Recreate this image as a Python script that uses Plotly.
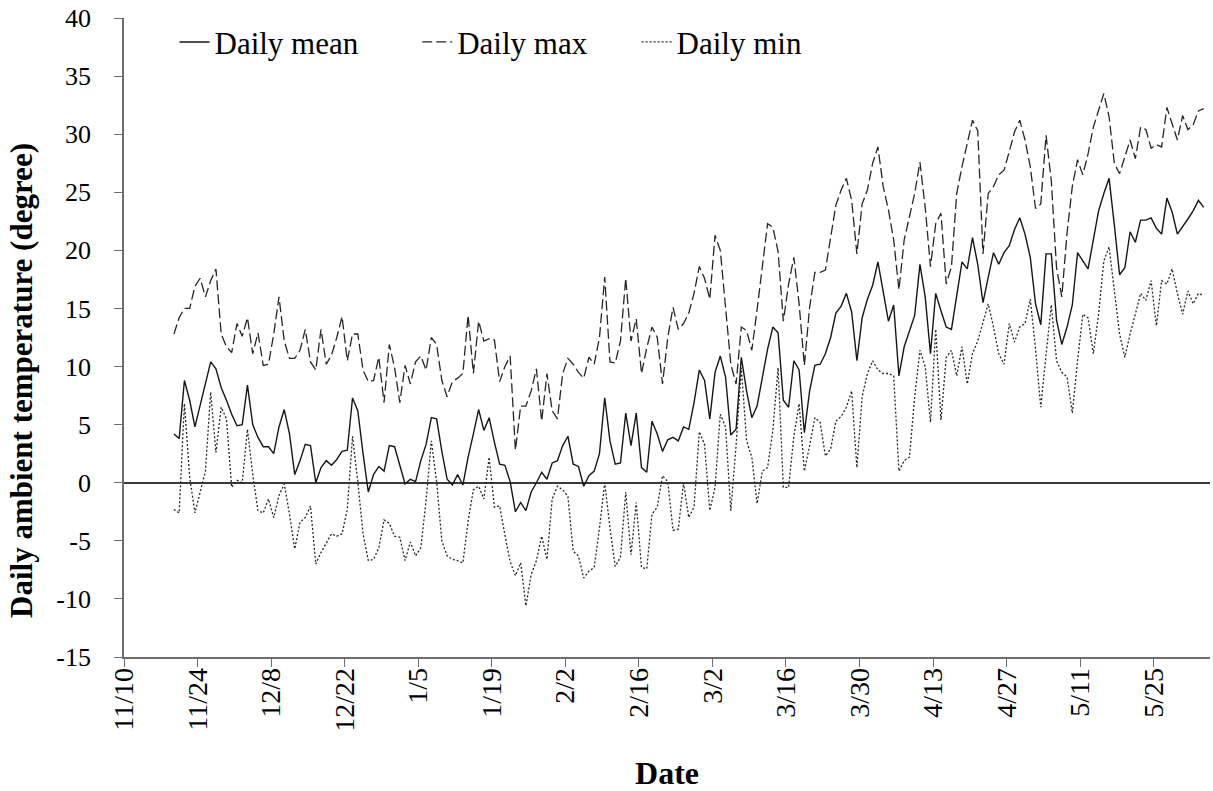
import pandas as pd
import plotly.graph_objects as go

# ---- data ----
first_day = "2014-11-19 12:00"

daily_mean = [
    4.2, 3.8, 8.8, 7.1, 4.8, 6.6, 8.4, 10.4, 9.8, 8.2,
    7.1, 5.9, 4.9, 5.0, 8.4, 5.0, 3.9, 3.1, 3.1, 2.5,
    4.8, 6.3, 4.2, 0.7, 1.9, 3.3, 3.2, 0.0, 1.3, 1.9,
    1.5, 2.0, 2.7, 2.8, 7.3, 6.2, 2.5, -0.8, 0.7, 1.4,
    1.0, 3.2, 3.1, 1.5, -0.1, 0.3, 0.1, 1.9, 3.3, 5.6,
    5.5, 2.7, 0.3, -0.2, 0.7, -0.2, 2.2, 4.2, 6.3, 4.5,
    5.6, 3.5, 1.6, 1.5, 0.1, -2.5, -1.7, -2.4, -0.8, 0.0,
    0.9, 0.3, 1.7, 1.9, 3.2, 4.0, 1.6, 1.4, -0.3, 0.6,
    1.0, 2.5, 7.3, 3.6, 1.6, 1.7, 6.0, 3.2, 6.0, 1.3,
    0.9, 5.3, 4.2, 2.7, 3.7, 3.9, 3.6, 4.8, 4.6, 6.9,
    9.7, 8.8, 5.5, 9.5, 10.9, 9.1, 4.1, 4.6, 10.8, 7.9,
    5.6, 6.6, 9.1, 11.5, 13.4, 12.9, 7.1, 6.5, 10.5, 9.7,
    4.3, 7.9, 10.1, 10.2, 11.1, 12.5, 14.6, 15.2, 16.3, 14.7,
    10.5, 14.2, 15.8, 17.0, 19.0, 16.5, 13.9, 15.3, 9.2, 11.7,
    13.1, 14.4, 18.8, 16.0, 11.1, 16.3, 14.8, 13.4, 13.2, 16.3,
    19.0, 18.4, 21.1, 18.8, 15.5, 17.7, 19.8, 18.8, 19.8, 20.4,
    21.8, 22.8, 21.4, 19.4, 15.4, 13.6, 19.7, 19.7, 14.0, 11.9,
    13.4, 15.3, 19.8, 19.1, 18.4, 20.9, 23.4, 24.9, 26.2, 22.2,
    17.9, 18.5, 21.6, 20.7, 22.6, 22.6, 22.8, 21.9, 21.4, 24.5,
    23.3, 21.4, 22.0, 22.7, 23.4, 24.3, 23.7,
]

daily_max = [
    12.8, 14.2, 15.0, 15.0, 16.9, 17.6, 16.0, 17.4, 18.4, 12.8,
    11.7, 11.2, 13.7, 12.6, 14.2, 11.1, 12.9, 10.1, 10.2, 12.8,
    16.0, 12.2, 10.7, 10.7, 11.4, 13.2, 10.4, 9.7, 13.2, 10.2,
    11.0, 12.5, 14.3, 10.5, 12.8, 12.8, 9.7, 8.7, 8.8, 10.8,
    6.9, 11.9, 9.9, 6.9, 10.1, 8.5, 10.4, 10.9, 9.7, 12.5,
    11.9, 8.8, 7.4, 8.7, 9.0, 9.4, 14.4, 9.4, 13.9, 12.2,
    12.4, 12.3, 8.7, 10.0, 10.9, 2.8, 6.6, 6.6, 7.9, 9.8,
    5.3, 9.4, 6.2, 5.5, 9.4, 10.7, 10.2, 9.5, 9.0, 10.8,
    10.2, 12.5, 17.7, 10.4, 10.3, 12.2, 17.6, 12.2, 14.1, 9.4,
    11.6, 13.4, 12.5, 8.5, 12.5, 15.1, 13.2, 13.7, 14.6, 16.3,
    18.6, 17.6, 15.8, 21.3, 20.0, 14.9, 10.2, 8.5, 13.4, 13.1,
    11.4, 14.9, 18.4, 22.3, 22.0, 19.9, 13.9, 17.1, 19.4, 15.4,
    10.1, 15.1, 18.1, 18.1, 18.3, 21.1, 23.9, 25.2, 26.2, 24.3,
    19.7, 24.0, 25.2, 27.5, 28.9, 25.5, 23.5, 20.9, 16.6, 20.9,
    22.9, 24.9, 27.6, 23.7, 18.6, 22.3, 23.2, 17.1, 18.6, 24.9,
    27.2, 29.2, 31.2, 30.3, 19.7, 24.9, 25.5, 26.5, 26.9, 28.5,
    30.2, 31.2, 29.5, 27.2, 23.6, 24.0, 29.9, 26.0, 18.5, 16.0,
    21.5, 25.5, 27.8, 26.5, 28.3, 30.6, 32.1, 33.5, 31.5, 27.5,
    26.6, 28.0, 29.5, 27.9, 30.6, 30.4, 28.8, 29.1, 28.9, 32.3,
    30.9, 29.5, 31.6, 30.4, 30.8, 32.0, 32.2,
]

daily_min = [
    -2.3, -2.6, 6.8, 0.5, -2.6, -0.7, 1.0, 7.8, 2.6, 6.5,
    5.5, -0.4, 0.2, 0.0, 4.6, 0.7, -2.4, -2.6, -1.4, -3.0,
    -1.1, -0.1, -2.7, -5.7, -3.4, -3.0, -2.0, -7.0, -6.0, -5.2,
    -4.4, -4.6, -4.4, -2.3, 4.0, 0.1, -4.4, -6.7, -6.6, -5.6,
    -3.2, -3.5, -4.6, -4.7, -6.7, -5.1, -6.3, -5.6, -1.5, 3.6,
    0.1, -5.0, -6.3, -6.6, -6.7, -6.9, -3.3, -0.6, -0.3, -1.4,
    2.2, -2.1, -2.0, -4.5, -6.8, -8.0, -6.9, -10.6, -7.9, -6.7,
    -4.6, -6.6, -1.4, -0.3, -0.6, -1.2, -5.9, -6.3, -8.2, -7.6,
    -7.3, -3.9, 0.0, -3.9, -7.2, -6.4, -0.8, -6.2, -1.7, -7.3,
    -7.4, -2.7, -2.1, 0.6, 0.1, -4.1, -4.0, 0.0, -3.0, -2.1,
    4.4, 3.3, -2.4, -0.4, 5.9, 4.8, -2.4, 3.2, 9.9, 3.6,
    2.2, -1.8, 1.0, 1.3, 4.5, 9.9, -0.4, -0.4, 4.0, 6.8,
    1.0, 3.2, 5.6, 5.2, 2.3, 2.9, 5.3, 5.7, 6.5, 7.9,
    1.3, 7.4, 9.4, 10.5, 9.7, 9.4, 9.4, 9.2, 1.0, 1.9,
    2.2, 7.4, 11.4, 10.0, 5.2, 13.2, 5.4, 10.8, 11.4, 9.2,
    11.7, 8.5, 11.1, 12.2, 13.7, 15.4, 13.4, 11.1, 10.2, 13.7,
    12.1, 13.4, 13.7, 15.8, 11.5, 6.5, 11.0, 15.3, 10.5, 9.5,
    9.1, 6.0, 10.5, 14.5, 14.2, 11.1, 14.5, 19.1, 20.3, 16.3,
    12.8, 10.8, 12.8, 14.5, 16.3, 15.7, 17.4, 13.5, 17.4, 17.1,
    18.4, 16.3, 14.5, 16.5, 15.4, 16.3, 16.1,
]

tick_start = "2014-11-10"
tick_end = "2015-05-25"
x_end = "2015-06-04 17:00"
y_ticks = [40, 35, 30, 25, 20, 15, 10, 5, 0, -5, -10, -15]
y_tick_text = [str(v) for v in y_ticks]

dates = pd.date_range(first_day, periods=len(daily_mean), freq="D")
tick_dates = pd.date_range(tick_start, tick_end, freq="14D")
tick_text = [f"{d.month}/{d.day}" for d in tick_dates]

FONT = "Liberation Serif, Times New Roman, serif"
AXIS_GREY = "#6e6e6e"

fig = go.Figure()
fig.add_trace(go.Scatter(x=dates, y=daily_mean, mode="lines", name="Daily mean",
                         legend="legend",
                         line=dict(color="#161616", width=1.4)))
fig.add_trace(go.Scatter(x=dates, y=daily_max, mode="lines", name="Daily max",
                         legend="legend2",
                         line=dict(color="#262626", width=1.3, dash="10px,4px")))
fig.add_trace(go.Scatter(x=dates, y=daily_min, mode="lines", name="Daily min",
                         legend="legend3",
                         line=dict(color="#262626", width=1.3, dash="2px,2px")))

legend_style = dict(orientation="h", y=0.962, xanchor="left", yanchor="middle",
                    font=dict(family=FONT, size=31, color="black"),
                    bgcolor="rgba(0,0,0,0)", itemwidth=30)

fig.update_layout(
    width=1213, height=791,
    margin=dict(l=124, r=3, t=18, b=134, autoexpand=False),
    paper_bgcolor="white", plot_bgcolor="white",
    font=dict(family=FONT, color="black", size=24),
    showlegend=True,
    legend=dict(x=0.0465, **legend_style),
    legend2=dict(x=0.270, **legend_style),
    legend3=dict(x=0.472, **legend_style),
    xaxis=dict(
        type="date", range=[tick_start, x_end], automargin=False,
        tickmode="array", tickvals=tick_dates, ticktext=tick_text,
        tickangle=-90, tickfont=dict(family=FONT, size=28, color="black"),
        ticklabelstandoff=-10,
        showgrid=False, zeroline=False,
        showline=True, linecolor=AXIS_GREY, linewidth=1.6,
        ticks="outside", ticklen=8, tickcolor=AXIS_GREY, tickwidth=1.3,
        title=dict(text="<b>Date</b>", font=dict(family=FONT, size=32, color="black"),
                   standoff=31),
    ),
    yaxis=dict(
        range=[-15, 40], automargin=False,
        tickmode="array", tickvals=y_ticks, ticktext=y_tick_text,
        tickfont=dict(family=FONT, size=26, color="black"),
        ticklabelstandoff=18,
        showgrid=False,
        zeroline=True, zerolinecolor="#3a3a3a", zerolinewidth=1.6,
        showline=True, linecolor=AXIS_GREY, linewidth=1.6,
        ticks="outside", ticklen=8, tickcolor=AXIS_GREY, tickwidth=1.3,
    ),
    annotations=[dict(
        text="<b>Daily ambient temperature (degree)</b>",
        font=dict(family=FONT, size=31, color="black"),
        textangle=-90, showarrow=False,
        xref="paper", yref="paper", x=0, xshift=-102, xanchor="center",
        y=0.432, yanchor="middle",
    )],
)

fig.write_html("out.html", config={"displayModeBar": False},
               post_script="document.body.style.margin='0px';")
